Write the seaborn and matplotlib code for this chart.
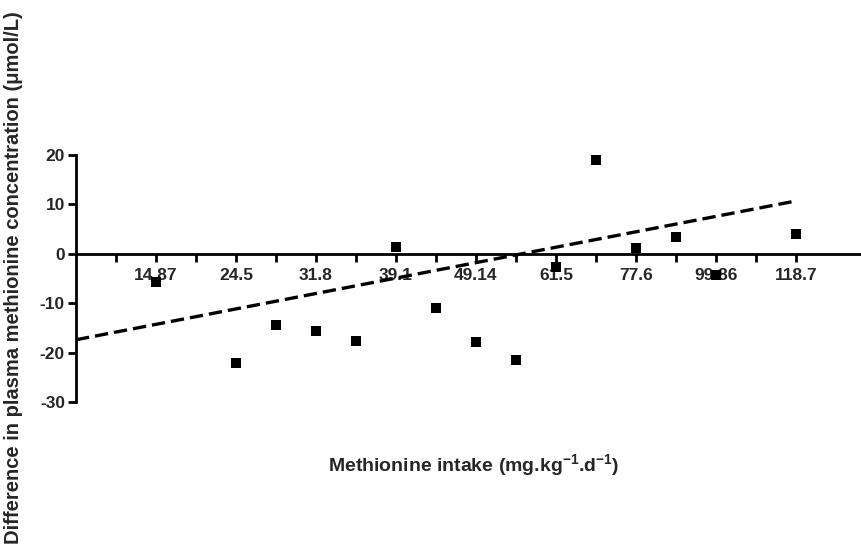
import matplotlib
matplotlib.use("Agg")
import matplotlib.pyplot as plt
import seaborn as sns
import pandas as pd

# ordinal slot of each subject on the intake axis, and the plasma difference
intake_slot = [2, 4, 5, 6, 7, 8, 9, 10, 11, 12, 13, 14, 15, 16, 18]
met_diff = [-5.7, -22.2, -14.4, -15.6, -17.7, 1.3, -11.0, -17.9, -21.4,
            -2.7, 19.0, 1.2, 3.4, -4.2, 4.1]

# labelled intake values (every second slot)
label_slots = [2, 4, 6, 8, 10, 12, 14, 16, 18]
intake_labels = ['14.87', '24.5', '31.8', '39.1', '49.14', '61.5', '77.6', '99.86', '118.7']

# regression line end points
fit_slot = [0, 18]
fit_diff = [-17.4, 10.7]

y_ticks = [-30, -20, -10, 0, 10, 20]

sns.set_style("white")
plt.rcParams['font.family'] = ['Liberation Sans', 'DejaVu Sans']
plt.rcParams['axes.unicode_minus'] = False
plt.rcParams['mathtext.default'] = 'regular'

df = pd.DataFrame({'slot': intake_slot, 'diff': met_diff})
fit = pd.DataFrame({'slot': fit_slot, 'diff': fit_diff})

fig = plt.figure(figsize=(8.62, 5.56), dpi=100)
ax = fig.add_axes([76 / 862, 1 - 402 / 556, 1 - 76 / 862, (402 - 155) / 556])

sns.lineplot(data=fit, x='slot', y='diff', ax=ax, color='black',
             linestyle=(0, (4.0, 1.8)), linewidth=2.4)
sns.scatterplot(data=df, x='slot', y='diff', ax=ax, marker='s', s=52,
                color='black', edgecolor='black', linewidth=0, clip_on=False, zorder=5)

ax.set_xlim(0, 19.65)
ax.set_ylim(-30, 20)

ax.spines['top'].set_visible(False)
ax.spines['right'].set_visible(False)
ax.spines['bottom'].set_position(('data', 0))
ax.spines['left'].set_bounds(-30, 20)
for side in ['left', 'bottom']:
    ax.spines[side].set_linewidth(2.0)
    ax.spines[side].set_color('black')

all_slots = list(range(1, 19))
ax.set_xticks(all_slots)
ax.set_xticklabels([intake_labels[label_slots.index(s)] if s in label_slots else ''
                    for s in all_slots])
ax.set_yticks(y_ticks)
ax.set_yticklabels([str(v) for v in y_ticks])
ax.tick_params(axis='both', direction='out', length=6, width=2.0, color='black',
               labelsize=12.5, pad=2)
ax.tick_params(axis='x', bottom=True, pad=4)
ax.tick_params(axis='y', left=True)
for lab in ax.get_xticklabels() + ax.get_yticklabels():
    lab.set_fontweight('bold')

ax.set_xlabel('')
ax.set_ylabel('')

fig.text(474 / 862, 1 - 465 / 556, r'Methionine intake (mg.kg$^{-1}$.d$^{-1}$)',
         ha='center', va='center', fontsize=14, fontweight='bold')
fig.text(14 / 862, 1 - 278 / 556,
         'Difference in plasma methionine concentration (\u03bcmol/L)',
         ha='center', va='center', rotation=90, fontsize=14.5, fontweight='bold')

fig.savefig('out.png', dpi=100)
plt.close(fig)
